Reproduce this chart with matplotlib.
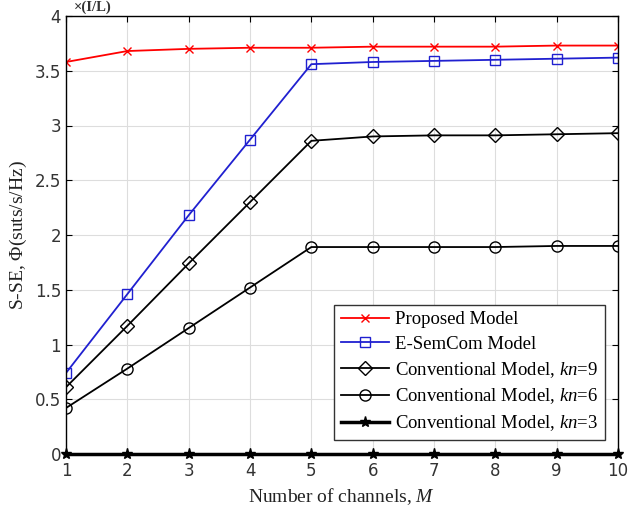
import matplotlib
matplotlib.use("Agg")
import matplotlib.pyplot as plt

# Number of channels
canali = [1, 2, 3, 4, 5, 6, 7, 8, 9, 10]

# S-SE values
proposed = [3.58, 3.68, 3.70, 3.71, 3.71, 3.72, 3.72, 3.72, 3.73, 3.73]
esemcom = [0.74, 1.46, 2.18, 2.87, 3.56, 3.58, 3.59, 3.60, 3.61, 3.62]
conv_kn9 = [0.61, 1.17, 1.74, 2.30, 2.86, 2.90, 2.91, 2.91, 2.92, 2.93]
conv_kn6 = [0.42, 0.78, 1.15, 1.52, 1.89, 1.89, 1.89, 1.89, 1.90, 1.90]
conv_kn3 = [0, 0, 0, 0, 0, 0, 0, 0, 0, 0]

etichette = ["Proposed Model", "E-SemCom Model",
             "Conventional Model, $\\mathit{kn}$=9",
             "Conventional Model, $\\mathit{kn}$=6",
             "Conventional Model, $\\mathit{kn}$=3"]

plt.rcParams["mathtext.fontset"] = "custom"
plt.rcParams["mathtext.it"] = "Liberation Serif:italic"
plt.rcParams["mathtext.rm"] = "Liberation Serif"

fig = plt.figure(figsize=(6.28, 5.15), dpi=100)
ax = fig.add_axes([66 / 628, 1 - 454 / 515, 552 / 628, 438 / 515])

ax.plot(canali, proposed, color="red", marker="x", markersize=6, lw=1.3, label=etichette[0])
ax.plot(canali, esemcom, color="#2020d0", marker="s", markersize=7, mfc="none", lw=1.3, label=etichette[1])
ax.plot(canali, conv_kn9, color="black", marker="D", markersize=7, mfc="none", lw=1.3, label=etichette[2])
ax.plot(canali, conv_kn6, color="black", marker="o", markersize=8, mfc="none", lw=1.3, label=etichette[3])
ax.plot(canali, conv_kn3, color="black", marker="*", markersize=8, lw=2.5, label=etichette[4], clip_on=False, zorder=5)

ax.set_xlim(1, 10)
ax.set_ylim(0, 4)
ax.set_xticks(canali)
ax.set_yticks([0, 0.5, 1, 1.5, 2, 2.5, 3, 3.5, 4])
ax.set_yticklabels(["0", "0.5", "1", "1.5", "2", "2.5", "3", "3.5", "4"])
ax.grid(True, color="#dddddd", lw=0.8)
ax.tick_params(direction="in", labelsize=12, labelcolor="#333333", length=4, top=True, right=True)
ax.tick_params(axis="x", pad=6)
for s in ax.spines.values():
    s.set_linewidth(1.0)

ax.set_xlabel("Number of channels, $\\mathit{M}$", family="Liberation Serif", fontsize=14, color="#222222")
ax.set_ylabel("S-SE, $\\Phi$(suts/s/Hz)", family="Liberation Serif", fontsize=14, color="#222222")
ax.text(0.015, 1.004, "\u00d7(I/L)", transform=ax.transAxes, family="Liberation Serif",
        fontsize=10.5, fontweight="bold", color="#333333", va="bottom", ha="left")

leg = ax.legend(loc="lower right", bbox_to_anchor=(0.976, 0.032), borderaxespad=0,
                prop={"family": "Liberation Serif", "size": 13.5},
                frameon=True, fancybox=False, edgecolor="#333333", framealpha=1,
                handlelength=2.6, handletextpad=0.3, labelspacing=0.38, borderpad=0.35)
leg.get_frame().set_linewidth(1.0)

fig.savefig("out.png", dpi=100)
